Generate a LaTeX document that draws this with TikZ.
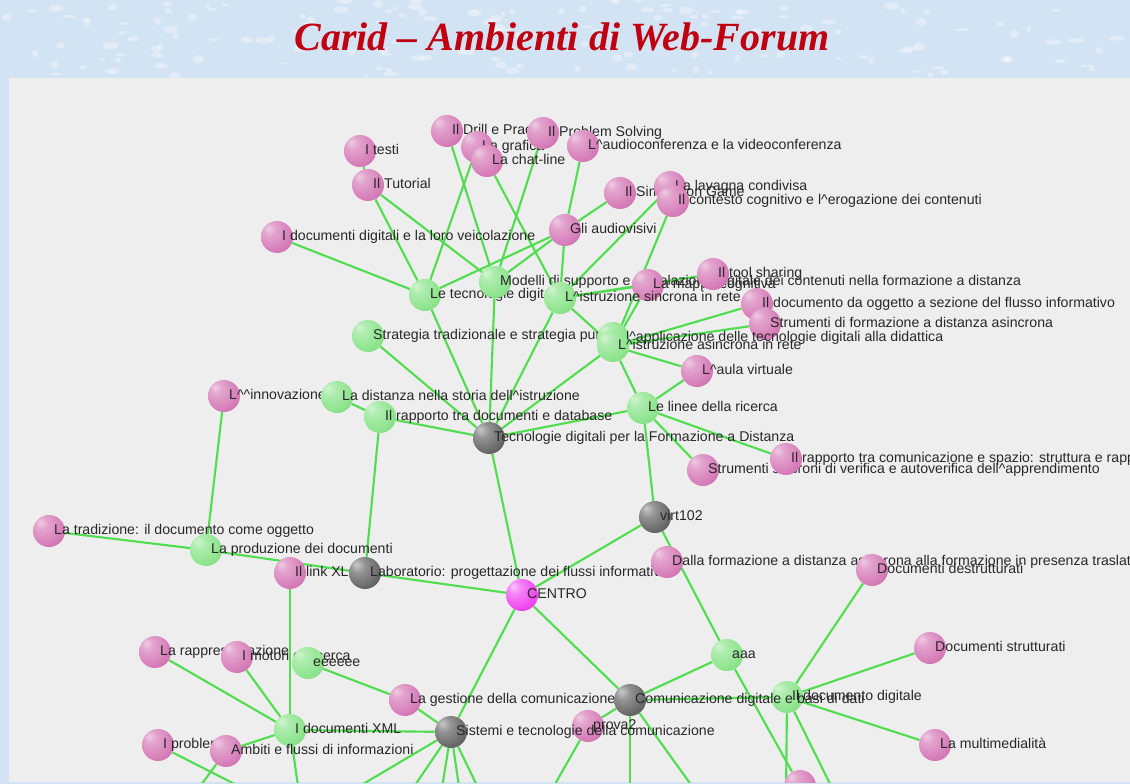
\documentclass[tikz,border=0pt]{standalone}
\usepackage{fontspec}
\setmainfont{Liberation Sans}
\newfontfamily\titlefont{Liberation Serif}
\usetikzlibrary{positioning}
\pgfdeclarelayer{back}
\pgfdeclarelayer{links}
\pgfsetlayers{back,links,main}
\definecolor{linkgreen}{RGB}{80,222,80}
\definecolor{ballpink}{RGB}{214,124,184}
\definecolor{ballgreen}{RGB}{140,228,140}
\definecolor{ballgray}{RGB}{100,100,100}
\definecolor{ballmag}{RGB}{240,70,240}
\definecolor{paneback}{RGB}{238,238,238}
\definecolor{bannerblue}{RGB}{210,227,244}
\definecolor{titlered}{RGB}{192,0,16}
\definecolor{labelgray}{RGB}{40,40,40}
\pgfdeclareradialshading{pinkshade}{\pgfpoint{-14bp}{14bp}}{color(0bp)=(ballpink!40!white); color(10bp)=(ballpink!70!white); color(30bp)=(ballpink); color(52bp)=(ballpink!82!black); color(70bp)=(ballpink!62!black)}
\pgfdeclareradialshading{greenshade}{\pgfpoint{-14bp}{14bp}}{color(0bp)=(ballgreen!40!white); color(10bp)=(ballgreen!70!white); color(30bp)=(ballgreen); color(52bp)=(ballgreen!85!black); color(70bp)=(ballgreen!68!black)}
\pgfdeclareradialshading{grayshade}{\pgfpoint{-14bp}{14bp}}{color(0bp)=(ballgray!35!white); color(12bp)=(ballgray!70!white); color(32bp)=(ballgray); color(52bp)=(ballgray!60!black); color(70bp)=(ballgray!40!black)}
\pgfdeclareradialshading{magshade}{\pgfpoint{-14bp}{14bp}}{color(0bp)=(ballmag!30!white); color(10bp)=(ballmag!65!white); color(30bp)=(ballmag); color(52bp)=(ballmag!82!black); color(70bp)=(ballmag!65!black)}
\newcommand{\crt}{\textasciicircum}
\tikzset{
  ball/.style={circle,inner sep=0pt,minimum size=24pt},
  pinkball/.style={ball,shading=pinkshade},
  greenball/.style={ball,shading=greenshade},
  grayball/.style={ball,shading=grayshade},
  centerball/.style={ball,shading=magshade},
  lbl/.style={inner sep=0pt,xshift=-8.5pt,text height=7.5pt,text depth=2pt,
    font=\fontsize{10.6}{12}\selectfont,text=labelgray},
  link/.style={draw=linkgreen,line width=1.6pt},
}
\begin{document}
\begin{tikzpicture}[x=0.75pt,y=-0.75pt]
\useasboundingbox (0,0) rectangle (1130,784);
% background
\begin{pgfonlayer}{back}
\fill[bannerblue] (0,0) rectangle (1130,784);
\pgfmathsetseed{7}
\foreach \i in {1,...,160}
  \fill[white,opacity=0.35] ({rnd*1130},{rnd*76}) ellipse ({2+rnd*6} and {1+rnd*3});
\fill[paneback] (9,78) rectangle (1130,782);
\end{pgfonlayer}
\node[font=\titlefont\bfseries\itshape\fontsize{30}{32}\selectfont,text=titlered] (title) at (562,37) {Carid – Ambienti di Web-Forum};
% nodes
\begin{scope}
\clip (9,78) rectangle (1130,782);
\node[pinkball,label={[lbl]east:I testi}] (testi) at (360,151) {};
\node[pinkball,label={[lbl]east:Il Tutorial}] (tutorial) at (368,185) {};
\node[pinkball,label={[lbl]east:Il Drill e Practice}] (drill) at (447,131) {};
\node[pinkball,label={[lbl]east:La grafica}] (grafica) at (477,147) {};
\node[pinkball,label={[lbl]east:La chat-line}] (chat) at (487,161) {};
\node[pinkball,label={[lbl]east:Il Problem Solving}] (problem) at (543,133) {};
\node[pinkball,label={[lbl]east:L\crt audioconferenza e la videoconferenza}] (audio) at (583,146) {};
\node[pinkball,label={[lbl]east:Il Simulation Game}] (sin) at (620,193) {};
\node[pinkball,label={[lbl]east:La lavagna condivisa}] (lavagna) at (670,187) {};
\node[pinkball,label={[lbl]east:Il contesto cognitivo e l\crt erogazione dei contenuti}] (contesto) at (673,201) {};
\node[pinkball,label={[lbl]east:I documenti digitali e la loro veicolazione}] (docdigp) at (277,237) {};
\node[pinkball,label={[lbl]east:Gli audiovisivi}] (audiovisivi) at (565,230) {};
\node[greenball,label={[lbl]east:Le tecnologie digitali}] (tecn) at (425,295) {};
\node[greenball,label={[lbl]east:Modelli di supporto e veicolazione digitale dei contenuti nella formazione a distanza}] (modelli) at (495,282) {};
\node[pinkball,label={[lbl]east:La mappa cognitiva}] (mappa) at (648,285) {};
\node[pinkball,label={[lbl]east:Il tool sharing}] (tool) at (713,274) {};
\node[greenball,label={[lbl]east:L\crt istruzione sincrona in rete}] (istrsinc) at (560,298) {};
\node[pinkball,label={[lbl]east:Il documento da oggetto a sezione del flusso informativo}] (docogg) at (757,304) {};
\node[pinkball,label={[lbl]east:Strumenti di formazione a distanza asincrona}] (strumasinc) at (765,324) {};
\node[greenball,label={[lbl]east:Strategia tradizionale e strategia pura}] (strategia) at (368,336) {};
\node[greenball,label={[lbl,xshift=6pt]east:l\crt applicazione delle tecnologie digitali alla didattica}] (applic) at (613,338) {};
\node[greenball,label={[lbl]east:L\crt istruzione asincrona in rete}] (asincrona) at (613,346) {};
\node[pinkball,label={[lbl]east:L\crt aula virtuale}] (aula) at (697,371) {};
\node[pinkball,label={[lbl]east:L\crt\crt innovazione}] (innov) at (224,396) {};
\node[greenball,label={[lbl]east:La distanza nella storia dell\crt istruzione}] (distanza) at (337,397) {};
\node[greenball,label={[lbl]east:Il rapporto tra documenti e database}] (rapporto) at (380,417) {};
\node[greenball,label={[lbl]east:Le linee della ricerca}] (linee) at (643,408) {};
\node[grayball,label={[lbl]east:Tecnologie digitali per la Formazione a Distanza}] (tecnfad) at (489,438) {};
\node[pinkball,label={[lbl]east:Strumenti sincroni di verifica e autoverifica dell\crt apprendimento}] (strumsinc) at (703,470) {};
\node[pinkball,label={[lbl]east:{Il rapporto tra comunicazione e spazio: struttura e rappresentazione}}] (rapcom) at (786,459) {};
\node[grayball,label={[lbl]east:virt102}] (virt) at (655,517) {};
\node[pinkball,label={[lbl]east:{La tradizione: il documento come oggetto}}] (tradiz) at (49,531) {};
\node[greenball,label={[lbl]east:La produzione dei documenti}] (produz) at (206,550) {};
\node[pinkball,label={[lbl]east:Il link XL}] (link) at (290,573) {};
\node[grayball,label={[lbl]east:{Laboratorio: progettazione dei flussi informativi}}] (lab) at (365,573) {};
\node[pinkball,label={[lbl]east:Dalla formazione a distanza asincrona alla formazione in presenza traslata}] (dalla) at (667,562) {};
\node[pinkball,label={[lbl]east:Documenti destrutturati}] (docdestr) at (872,570) {};
\node[centerball,label={[lbl]east:CENTRO}] (centro) at (522,595) {};
\node[pinkball,label={[lbl]east:La rappresentazione}] (rappres) at (155,652) {};
\node[pinkball,label={[lbl]east:I motori di ricerca}] (motori) at (237,657) {};
\node[greenball,label={[lbl]east:eeeeee}] (eeeeee) at (308,663) {};
\node[pinkball,label={[lbl]east:La gestione della comunicazione}] (gestione) at (405,700) {};
\node[greenball,label={[lbl]east:aaa}] (aaa) at (727,655) {};
\node[pinkball,label={[lbl]east:Documenti strutturati}] (docstrutt) at (930,648) {};
\node[greenball,label={[lbl]east:Il documento digitale}] (docdigg) at (787,697) {};
\node[grayball,label={[lbl]east:Comunicazione digitale e basi di dati}] (comdig) at (630,700) {};
\node[greenball,label={[lbl]east:I documenti XML}] (docxml) at (290,730) {};
\node[pinkball,label={[lbl]east:prova2}] (prova2) at (588,726) {};
\node[grayball,label={[lbl]east:Sistemi e tecnologie della comunicazione}] (sistemi) at (451,732) {};
\node[pinkball,label={[lbl]east:I problemi}] (problemi) at (158,745) {};
\node[pinkball,label={[lbl]east:Ambiti e flussi di informazioni}] (ambiti) at (226,751) {};
\node[pinkball,label={[lbl]east:La multimedialità}] (multimed) at (935,745) {};
\node[pinkball] (fondo) at (800,786) {};
\end{scope}
% free ends below the pane
\coordinate (b1) at (190,800);
\coordinate (b2) at (266,800);
\coordinate (b3) at (300,800);
\coordinate (b4) at (336,800);
\coordinate (b5) at (405,800);
\coordinate (b6) at (440,800);
\coordinate (b7) at (461,800);
\coordinate (b8) at (484,800);
\coordinate (b9) at (546,800);
\coordinate (b10) at (630,800);
\coordinate (b11) at (702,800);
\coordinate (b12) at (786,800);
\coordinate (b13) at (838,800);
% links
\begin{pgfonlayer}{links}
\begin{scope}
\clip (9,78) rectangle (1130,782);
\draw[link] (tecnfad) -- (strategia);
\draw[link] (tecnfad) -- (tecn);
\draw[link] (tecnfad) -- (modelli);
\draw[link] (tecnfad) -- (istrsinc);
\draw[link] (tecnfad) -- (asincrona);
\draw[link] (tecnfad) -- (linee);
\draw[link] (tecnfad) -- (rapporto);
\draw[link] (tecnfad) -- (centro);
\draw[link] (rapporto) -- (distanza);
\draw[link] (rapporto) -- (lab);
\draw[link] (innov) -- (produz);
\draw[link] (tradiz) -- (produz);
\draw[link] (produz) -- (lab);
\draw[link] (link) -- (docxml);
\draw[link] (lab) -- (centro);
\draw[link] (centro) -- (virt);
\draw[link] (centro) -- (sistemi);
\draw[link] (centro) -- (comdig);
\draw[link] (virt) -- (linee);
\draw[link] (virt) -- (aaa);
\draw[link] (linee) -- (aula);
\draw[link] (linee) -- (strumsinc);
\draw[link] (linee) -- (rapcom);
\draw[link] (linee) -- (asincrona);
\draw[link] (asincrona) -- (istrsinc);
\draw[link] (asincrona) -- (mappa);
\draw[link] (asincrona) -- (docogg);
\draw[link] (asincrona) -- (strumasinc);
\draw[link] (asincrona) -- (aula);
\draw[link] (asincrona) -- (contesto);
\draw[link] (istrsinc) -- (mappa);
\draw[link] (istrsinc) -- (tool);
\draw[link] (istrsinc) -- (audiovisivi);
\draw[link] (istrsinc) -- (chat);
\draw[link] (istrsinc) -- (lavagna);
\draw[link] (modelli) -- (tutorial);
\draw[link] (modelli) -- (drill);
\draw[link] (modelli) -- (problem);
\draw[link] (modelli) -- (audiovisivi);
\draw[link] (tecn) -- (tutorial);
\draw[link] (tecn) -- (docdigp);
\draw[link] (tecn) -- (grafica);
\draw[link] (tecn) -- (audiovisivi);
\draw[link] (testi) -- (tutorial);
\draw[link] (audio) -- (audiovisivi);
\draw[link] (sin) -- (audiovisivi);
\draw[link] (aaa) -- (comdig);
\draw[link] (aaa) -- (fondo);
\draw[link] (docdigg) -- (comdig);
\draw[link] (docdigg) -- (docstrutt);
\draw[link] (docdigg) -- (multimed);
\draw[link] (docdigg) -- (docdestr);
\draw[link] (docdigg) -- (b12);
\draw[link] (docdigg) -- (b13);
\draw[link] (comdig) -- (prova2);
\draw[link] (comdig) -- (b10);
\draw[link] (comdig) -- (b11);
\draw[link] (prova2) -- (b9);
\draw[link] (sistemi) -- (gestione);
\draw[link] (sistemi) -- (docxml);
\draw[link] (sistemi) -- (b4);
\draw[link] (sistemi) -- (b5);
\draw[link] (sistemi) -- (b6);
\draw[link] (sistemi) -- (b7);
\draw[link] (sistemi) -- (b8);
\draw[link] (eeeeee) -- (gestione);
\draw[link] (rappres) -- (docxml);
\draw[link] (motori) -- (docxml);
\draw[link] (docxml) -- (b3);
\draw[link] (ambiti) -- (docxml);
\draw[link] (ambiti) -- (b1);
\draw[link] (problemi) -- (b2);
\end{scope}
\end{pgfonlayer}
\end{tikzpicture}
\end{document}
